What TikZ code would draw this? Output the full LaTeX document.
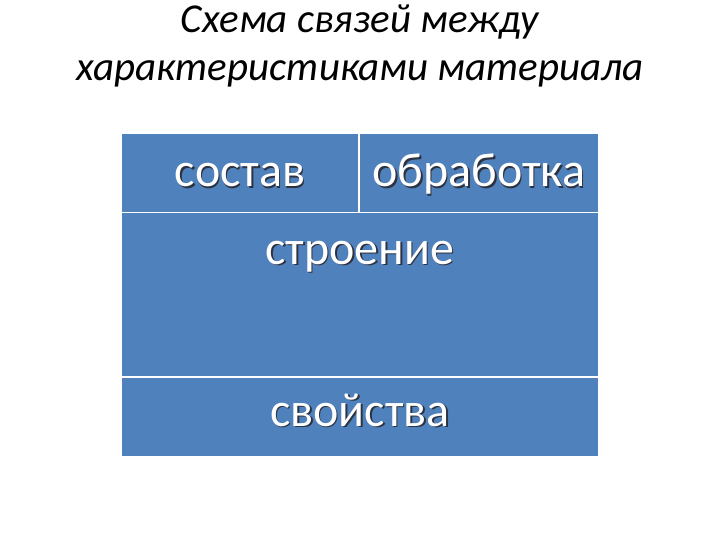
\documentclass[tikz,border=0pt]{standalone}
\usepackage{fontspec}
\setmainfont{Carlito}
\usetikzlibrary{positioning}
\definecolor{cellblue}{RGB}{79,129,189}
\definecolor{shadowgray}{RGB}{45,50,65}
\tikzset{cell/.style={draw=white,line width=1.5pt,fill=cellblue,inner sep=0pt},
         celltext/.style={text=white,font=\fontsize{48}{52}\selectfont,inner sep=0pt,anchor=base},
         cellshadow/.style={celltext,text=shadowgray,xshift=1.4pt,yshift=-1.4pt}}
\newcommand{\celllabel}[3]{%
  \node[cellshadow] (#1s) at (#2) {#3};
  \node[celltext] (#1) at (#2) {#3};}
\begin{document}
\begin{tikzpicture}[x=1pt,y=-1pt]
                    \useasboundingbox (0,0) rectangle (720,540);
                    \node[align=center,font=\itshape\fontsize{41}{48}\selectfont,inner sep=0pt] (title) at (360,46) {Схема связей между\\характеристиками материала};
                    \node[cell,minimum width=238pt,minimum height=79pt] (sostav) at (240,173) {};
                    \node[cell,minimum width=240pt,minimum height=79pt] (obrab) at (479,173) {};
                    \node[cell,minimum width=478pt,minimum height=165pt] (stroenie) at (360,295) {};
                    \node[cell,minimum width=478pt,minimum height=80pt] (svoistva) at (360,417) {};
                    \celllabel{sostavT}{240,187}{состав}
                    \celllabel{obrabT}{479,187}{обработка}
                    \celllabel{stroenieT}{360,264}{строение}
                    \celllabel{svoistvaT}{360,426}{свойства}
                \end{tikzpicture}
\end{document}
